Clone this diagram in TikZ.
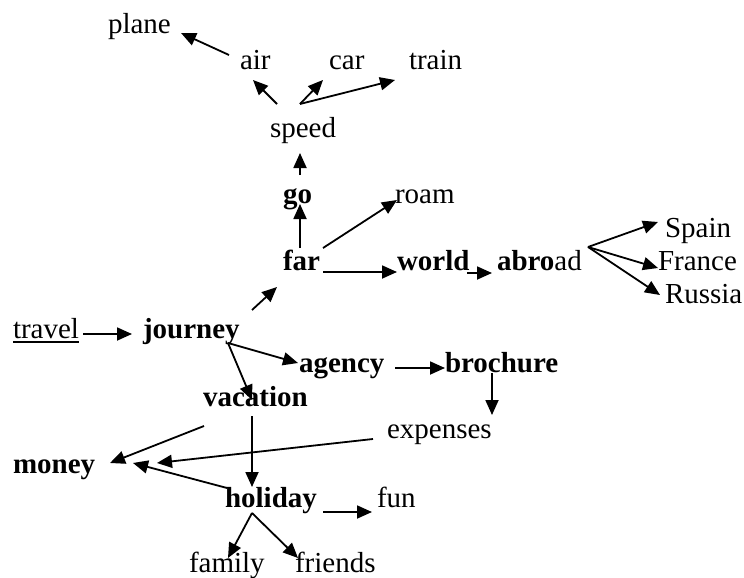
\documentclass[tikz,border=0pt]{standalone}
\usepackage{fontspec}
\setmainfont{Liberation Serif}
\usetikzlibrary{arrows.meta}
\begin{document}
\begin{tikzpicture}[x=1pt,y=-1pt,
  word/.style={inner sep=0pt, outer sep=0pt, anchor=base west, font=\fontsize{29}{35}\selectfont},
  kw/.style={word, font=\fontsize{29}{35}\selectfont\bfseries},
  ar/.style={-{Triangle[length=15pt,width=13pt]}, line width=1.8pt}]
\useasboundingbox (0,0) rectangle (744,578);
% nodes
\node[word] (plane) at (108,34) {plane};
\node[word] (air) at (240,70) {air};
\node[word] (car) at (329,70) {car};
\node[word] (train) at (409,70) {train};
\node[word] (speed) at (270,137) {speed};
\node[kw] (go) at (283,203) {go};
\node[word] (roam) at (395,203) {roam};
\node[kw] (far) at (283,270) {far};
\node[kw] (world) at (397,270) {world};
\node[word] (abroad) at (497,270) {\textbf{abro}ad};
\node[word] (spain) at (665,237) {Spain};
\node[word] (france) at (658,270) {France};
\node[word] (russia) at (665,303) {Russia};
\node[word] (travel) at (13,338) {travel};
\node[kw] (journey) at (143,338) {journey};
\node[kw] (agency) at (299,372) {agency};
\node[kw] (brochure) at (445,372) {brochure};
\node[kw] (vacation) at (203,406) {vacation};
\node[word] (expenses) at (387,438) {expenses};
\node[kw] (money) at (13,473) {money};
\node[kw] (holiday) at (225,507) {holiday};
\node[word] (fun) at (377,507) {fun};
\node[word] (family) at (189,572) {family};
\node[word] (friends) at (295,572) {friends};
% underline
\draw[line width=1.5pt] ([shift={(0,4)}]travel.base west) -- ([shift={(0,4)}]travel.base east);
% connectors
\draw[ar] ([shift={(-11,-15)}]air.base west) -- ([shift={(73,-1)}]plane.base west);
\draw[ar] ([shift={(7,-33)}]speed.base west) -- ([shift={(13,10)}]air.base west);
\draw[ar] ([shift={(30,-33)}]speed.base west) -- ([shift={(-6,10)}]car.base west);
\draw[ar] ([shift={(30,-33)}]speed.base west) -- ([shift={(-14,10)}]train.base west);
\draw[ar] ([shift={(17,-28)}]go.base west) -- ([shift={(30,16)}]speed.base west);
\draw[ar] ([shift={(17,-22)}]far.base west) -- ([shift={(17,1)}]go.base west);
\draw[ar] ([shift={(40,-22)}]far.base west) -- ([shift={(2,-3)}]roam.base west);
\draw[ar] ([shift={(40,2)}]far.base west) -- ([shift={(0,2)}]world.base west);
\draw[ar] ([shift={(70,3)}]world.base west) -- ([shift={(-5,3)}]abroad.base west);
\draw[ar] ([shift={(91,-23)}]abroad.base west) -- ([shift={(-7,-15)}]spain.base west);
\draw[ar] ([shift={(91,-23)}]abroad.base west) -- ([shift={(0,-2)}]france.base west);
\draw[ar] ([shift={(91,-23)}]abroad.base west) -- ([shift={(-5,-8)}]russia.base west);
\draw[ar] ([shift={(109,-28)}]journey.base west) -- ([shift={(-6,17)}]far.base west);
\draw[ar] ([shift={(70,-4)}]travel.base west) -- ([shift={(-11,-4)}]journey.base west);
\draw[ar] ([shift={(85,5)}]journey.base west) -- ([shift={(-1,-9)}]agency.base west);
\draw[ar] ([shift={(85,5)}]journey.base west) -- ([shift={(49,-6)}]vacation.base west);
\draw[ar] ([shift={(96,-4)}]agency.base west) -- ([shift={(0,-4)}]brochure.base west);
\draw[ar] ([shift={(47,1)}]brochure.base west) -- ([shift={(105,-23)}]expenses.base west);
\draw[ar] ([shift={(1,20)}]vacation.base west) -- ([shift={(97,-10)}]money.base west);
\draw[ar] ([shift={(49,10)}]vacation.base west) -- ([shift={(27,-20)}]holiday.base west);
\draw[ar] ([shift={(-14,1)}]expenses.base west) -- ([shift={(144,-10)}]money.base west);
\draw[ar] ([shift={(2,-19)}]holiday.base west) -- ([shift={(120,-10)}]money.base west);
\draw[ar] ([shift={(98,5)}]holiday.base west) -- ([shift={(-5,5)}]fun.base west);
\draw[ar] ([shift={(27,6)}]holiday.base west) -- ([shift={(39,-14)}]family.base west);
\draw[ar] ([shift={(27,6)}]holiday.base west) -- ([shift={(3,-14)}]friends.base west);
\end{tikzpicture}
\end{document}
